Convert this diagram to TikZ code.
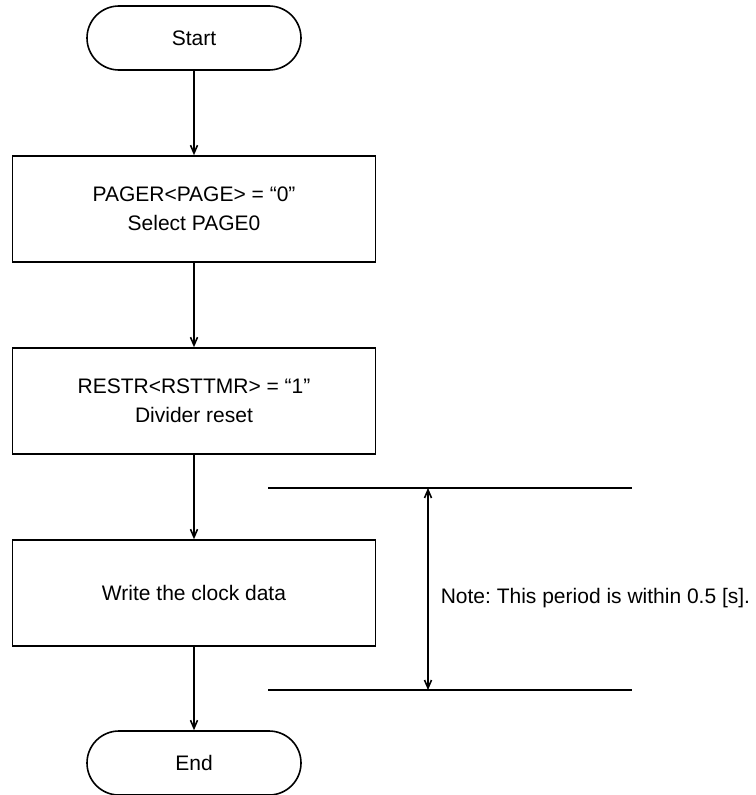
\documentclass[tikz,border=0pt]{standalone}
\usepackage{fontspec}
\setmainfont{Liberation Sans}
\usetikzlibrary{arrows.meta,positioning}
\frenchspacing

\begin{document}
\begin{tikzpicture}[x=1pt,y=-1pt,node distance=192pt,line width=1.6pt,
    >={Straight Barb[length=8pt,width=7pt]}]
    \tikzstyle{every node}=[font=\fontsize{21}{29}\selectfont]
    \tikzstyle{term}=[draw,rounded corners=32pt,minimum width=214pt,minimum height=64pt]
    \tikzstyle{proc}=[draw,align=center,minimum width=363pt,minimum height=106pt]
    \useasboundingbox (0,0) rectangle (755,795);

    \node[term]  (start)                 at (194,38)  {Start};
    \node[proc]  (page)  [below of=start,node distance=171pt] {PAGER<PAGE> = “0”\\Select PAGE0};
    \node[proc]  (reset) [below of=page]                      {RESTR<RSTTMR> = “1”\\Divider reset};
    \node[proc]  (write) [below of=reset]                     {Write the clock data};
    \node[term]  (end)   [below of=write,node distance=170pt] {End};
    \path[->]
    (start) edge (page)
    (page)  edge (reset)
    (reset) edge (write)
    (write) edge (end);

    % time window for the write
    \coordinate (topl)   at (268,488);
    \coordinate (topr)   at (632,488);
    \coordinate (botl)   at (268,690);
    \coordinate (botr)   at (632,690);
    \coordinate (uptip)  at (428,488);
    \coordinate (lowtip) at (428,690);
    \draw (topl) -- (topr);
    \draw (botl) -- (botr);
    \draw[<->] (uptip) -- (lowtip);
    \node[anchor=west,inner sep=0pt] (note) at (440,598) {Note: This period is within 0.5 [s].};
\end{tikzpicture}
\end{document}
